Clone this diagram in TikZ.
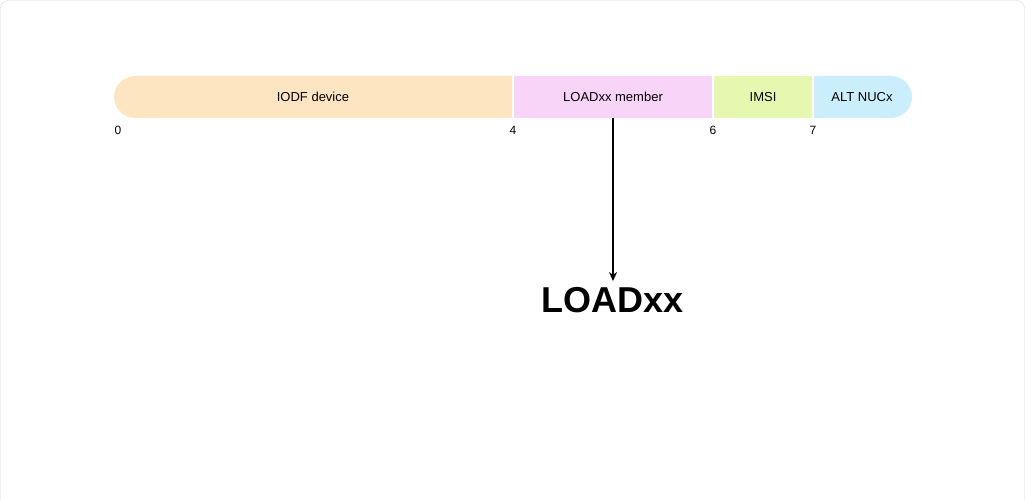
\documentclass[tikz,border=0pt]{standalone}
\usetikzlibrary{arrows.meta}
\usepackage{fontspec}
\setmainfont{Liberation Sans}
\begin{document}
\begin{tikzpicture}[x=1pt,y=-1pt,
  lbl/.style={font=\fontsize{13}{15}\selectfont, inner sep=0pt},
  tick/.style={font=\fontsize{12}{14}\selectfont, inner sep=0pt}]
\useasboundingbox (0,0) rectangle (1025,500);
\fill[white] (0,0) rectangle (1025,500);
\draw[draw={rgb,255:red,215;green,215;blue,215}, rounded corners=8pt] (0.5,0.5) rectangle (1024.5,520);
\definecolor{corange}{RGB}{253,229,194}
\definecolor{cpink}{RGB}{249,212,249}
\definecolor{cgreen}{RGB}{230,247,176}
\definecolor{cblue}{RGB}{202,238,251}
\fill[corange] (135,76) -- (513,76) -- (513,118) -- (135,118) arc[start angle=90,end angle=270,radius=21] -- cycle;
\fill[cpink] (513,76) rectangle (713,118);
\fill[cgreen] (713,76) rectangle (813,118);
\fill[cblue] (813,76) -- (891,76) arc[start angle=-90,end angle=90,radius=21] -- (813,118) -- cycle;
\draw[white, line width=2pt] (513,76) -- (513,118) (713,76) -- (713,118) (813,76) -- (813,118);
\node[lbl] (iodf) at (313,97) {IODF device};
\node[lbl] (load) at (613,97) {LOADxx member};
\node[lbl] (imsi) at (763,97) {IMSI};
\node[lbl] (alt) at (862,97) {ALT NUCx};
\node[tick] (t0) at (118,130) {0};
\node[tick] (t4) at (513,130) {4};
\node[tick] (t6) at (713,130) {6};
\node[tick] (t7) at (813,130) {7};
\coordinate (a) at (613,118);
\node[font=\bfseries\fontsize{36}{40}\selectfont, inner sep=0pt] (big) at (613,300) {LOADxx};
\draw[line width=1.5pt, -{Stealth[length=9pt,width=8pt]}, shorten >=6pt] (a) -- (big.north);
\end{tikzpicture}
\end{document}
